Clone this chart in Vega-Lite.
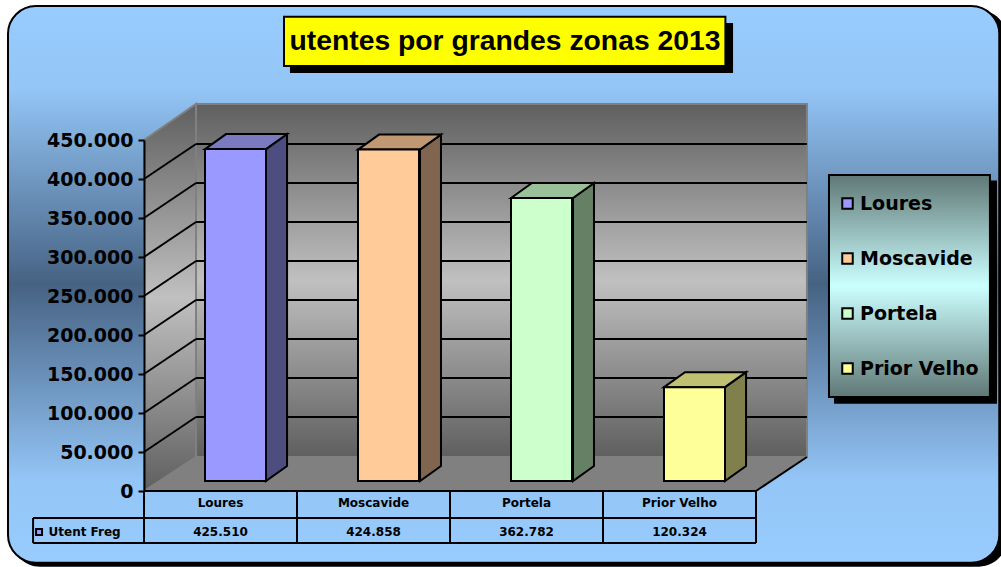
{"$schema":"https://vega.github.io/schema/vega-lite/v6.json","width":612,"height":351,"autosize":"none","padding":{"left":144,"top":140,"right":245,"bottom":76},"background":"#ffffff","config":{"view":{"stroke":null},"locale":{"number":{"decimal":",","thousands":".","grouping":[3],"currency":["","€"]}}},"title":{"text":"utentes por grandes zonas 2013","font":"Liberation Sans","fontSize":28.3,"fontWeight":"bold","color":"#000000","anchor":"middle","dx":55,"offset":-79,"baseline":"bottom"},"datasets":{"zones":[{"zone":"Loures","slot":0.5,"utentes":425510},{"zone":"Moscavide","slot":1.5,"utentes":424858},{"zone":"Portela","slot":2.5,"utentes":362782},{"zone":"Prior Velho","slot":3.5,"utentes":120324}],"ticks":[{"tick":50000,"back":94900},{"tick":100000,"back":144900},{"tick":150000,"back":194900},{"tick":200000,"back":244900},{"tick":250000,"back":294900},{"tick":300000,"back":344900},{"tick":350000,"back":394900},{"tick":400000,"back":444900}],"sidewall":[{"u":0,"hi":450000,"lo":0},{"u":0.34,"hi":496150,"lo":43590}],"floor":[{"u":0,"hi":0,"lo":0},{"u":0.34,"hi":43590,"lo":0},{"u":4,"hi":43590,"lo":0},{"u":4.333,"hi":43590,"lo":43590}],"lines":[{"u0":0,"u1":4,"v0":0,"v1":0},{"u0":-0.725,"u1":4,"v0":-34615,"v1":-34615},{"u0":-0.725,"u1":4,"v0":-66667,"v1":-66667},{"u0":-0.725,"u1":-0.725,"v0":-34615,"v1":-66667},{"u0":0,"u1":0,"v0":0,"v1":-66667},{"u0":1,"u1":1,"v0":0,"v1":-66667},{"u0":2,"u1":2,"v0":0,"v1":-66667},{"u0":3,"u1":3,"v0":0,"v1":-66667},{"u0":4,"u1":4,"v0":0,"v1":-66667},{"u0":4,"u1":4.333,"v0":0,"v1":43590}],"faces":[{"face":"Loures side","u":0.797,"hi":438330,"lo":12820},{"face":"Loures side","u":0.935,"hi":457560,"lo":32050},{"face":"Moscavide side","u":1.804,"hi":437678,"lo":12820},{"face":"Moscavide side","u":1.941,"hi":456908,"lo":32050},{"face":"Portela side","u":2.804,"hi":375602,"lo":12820},{"face":"Portela side","u":2.941,"hi":394832,"lo":32050},{"face":"Prior Velho side","u":3.797,"hi":133144,"lo":12820},{"face":"Prior Velho side","u":3.935,"hi":152374,"lo":32050},{"face":"Loures top","u":0.399,"hi":438330,"lo":438330},{"face":"Loures top","u":0.536,"hi":457560,"lo":438330},{"face":"Loures top","u":0.797,"hi":457560,"lo":438330},{"face":"Loures top","u":0.935,"hi":457560,"lo":457560},{"face":"Moscavide top","u":1.399,"hi":437678,"lo":437678},{"face":"Moscavide top","u":1.536,"hi":456908,"lo":437678},{"face":"Moscavide top","u":1.804,"hi":456908,"lo":437678},{"face":"Moscavide top","u":1.941,"hi":456908,"lo":456908},{"face":"Portela top","u":2.399,"hi":375602,"lo":375602},{"face":"Portela top","u":2.536,"hi":394832,"lo":375602},{"face":"Portela top","u":2.804,"hi":394832,"lo":375602},{"face":"Portela top","u":2.941,"hi":394832,"lo":394832},{"face":"Prior Velho top","u":3.399,"hi":133144,"lo":133144},{"face":"Prior Velho top","u":3.536,"hi":152374,"lo":133144},{"face":"Prior Velho top","u":3.797,"hi":152374,"lo":133144},{"face":"Prior Velho top","u":3.935,"hi":152374,"lo":152374}],"one":[{"part":"box"}]},"layer":[
{"data":{"name":"one"},"mark":{"type":"rect","fill":"#000000","cornerRadius":28},"encoding":{"x":{"datum":-0.863,"type":"quantitative","scale":{"domain":[0,4],"nice":false,"zero":false,"padding":0},"axis":null},"x2":{"datum":5.64},"y":{"datum":616666,"type":"quantitative","scale":{"domain":[0,450000],"nice":false,"zero":false},"axis":{"title":null,"values":[0,50000,100000,150000,200000,250000,300000,350000,400000,450000],"tickCount":10,"format":",.0f","grid":false,"zindex":1,"domainColor":"#000000","domainWidth":2,"tickColor":"#000000","tickWidth":2,"tickSize":6,"labelPadding":5,"labelFont":"DejaVu Sans","labelFontWeight":"bold","labelFontSize":19,"labelColor":"#000000","labelOverlap":false,"labelSeparation":0,"labelBound":false,"labelFlush":false}},"y2":{"datum":-97000}}},
{"data":{"name":"one"},"mark":{"type":"rect","cornerRadius":28,"stroke":"#000000","strokeWidth":2,"fill":{"gradient":"linear","x1":0,"y1":0,"x2":0,"y2":1,"stops":[{"offset":0,"color":"#99ccff"},{"offset":0.15,"color":"#93c5f6"},{"offset":0.5,"color":"#466283"},{"offset":0.85,"color":"#93c5f6"},{"offset":1,"color":"#99ccff"}]}},"encoding":{"x":{"datum":-0.889,"type":"quantitative","scale":{"domain":[0,4],"nice":false,"zero":false,"padding":0},"axis":null},"x2":{"datum":5.59},"y":{"datum":621795,"type":"quantitative","scale":{"domain":[0,450000],"nice":false,"zero":false}},"y2":{"datum":-92000}}},
{"data":{"name":"one"},"mark":{"type":"rect","fill":"#000000"},"encoding":{"x":{"datum":0.954,"type":"quantitative","scale":{"domain":[0,4],"nice":false,"zero":false,"padding":0},"axis":null},"x2":{"datum":3.85},"y":{"datum":600000,"type":"quantitative","scale":{"domain":[0,450000],"nice":false,"zero":false}},"y2":{"datum":536000}}},
{"data":{"name":"one"},"mark":{"type":"rect","fill":"#ffff00","stroke":"#000000","strokeWidth":2},"encoding":{"x":{"datum":0.915,"type":"quantitative","scale":{"domain":[0,4],"nice":false,"zero":false,"padding":0},"axis":null},"x2":{"datum":3.8},"y":{"datum":608000,"type":"quantitative","scale":{"domain":[0,450000],"nice":false,"zero":false}},"y2":{"datum":545000}}},
{"data":{"name":"one"},"mark":{"type":"rect","fill":"#000000"},"encoding":{"x":{"datum":4.51,"type":"quantitative","scale":{"domain":[0,4],"nice":false,"zero":false,"padding":0},"axis":null},"x2":{"datum":5.575},"y":{"datum":398000,"type":"quantitative","scale":{"domain":[0,450000],"nice":false,"zero":false}},"y2":{"datum":112000}}},
{"data":{"name":"one"},"mark":{"type":"rect","stroke":"#000000","strokeWidth":2,"fill":{"gradient":"linear","x1":0,"y1":0,"x2":0,"y2":1,"stops":[{"offset":0,"color":"#5f7876"},{"offset":0.5,"color":"#ccffff"},{"offset":1,"color":"#5f7876"}]}},"encoding":{"x":{"datum":4.477,"type":"quantitative","scale":{"domain":[0,4],"nice":false,"zero":false,"padding":0},"axis":null},"x2":{"datum":5.529},"y":{"datum":405000,"type":"quantitative","scale":{"domain":[0,450000],"nice":false,"zero":false}},"y2":{"datum":120500}}},
{"data":{"name":"sidewall"},"mark":{"type":"area","orient":"vertical","stroke":"#808080","strokeWidth":2,"fill":{"gradient":"linear","x1":0,"y1":0,"x2":0,"y2":1,"stops":[{"offset":0,"color":"#5f5f5f"},{"offset":0.5,"color":"#c0c0c0"},{"offset":1,"color":"#5f5f5f"}]}},"encoding":{"x":{"field":"u","type":"quantitative","scale":{"domain":[0,4],"nice":false,"zero":false,"padding":0},"axis":null},"y":{"field":"hi","type":"quantitative","stack":null,"scale":{"domain":[0,450000],"nice":false,"zero":false}},"y2":{"field":"lo"}}},
{"data":{"name":"one"},"mark":{"type":"rect","stroke":"#808080","strokeWidth":2,"fill":{"gradient":"linear","x1":0,"y1":0,"x2":0,"y2":1,"stops":[{"offset":0,"color":"#5f5f5f"},{"offset":0.5,"color":"#c0c0c0"},{"offset":1,"color":"#5f5f5f"}]}},"encoding":{"x":{"datum":0.34,"type":"quantitative","scale":{"domain":[0,4],"nice":false,"zero":false,"padding":0},"axis":null},"x2":{"datum":4.333},"y":{"datum":496150,"type":"quantitative","scale":{"domain":[0,450000],"nice":false,"zero":false}},"y2":{"datum":43590}}},
{"data":{"name":"floor"},"mark":{"type":"area","orient":"vertical","fill":"#808080"},"encoding":{"x":{"field":"u","type":"quantitative","scale":{"domain":[0,4],"nice":false,"zero":false,"padding":0},"axis":null},"y":{"field":"hi","type":"quantitative","stack":null,"scale":{"domain":[0,450000],"nice":false,"zero":false}},"y2":{"field":"lo"}}},
{"data":{"name":"ticks"},"mark":{"type":"rule","color":"#000000","strokeWidth":2},"encoding":{"x":{"datum":0.34,"type":"quantitative","scale":{"domain":[0,4],"nice":false,"zero":false,"padding":0},"axis":null},"x2":{"datum":4.333},"y":{"field":"back","type":"quantitative","scale":{"domain":[0,450000],"nice":false,"zero":false}}}},
{"data":{"name":"ticks"},"mark":{"type":"rule","color":"#000000","strokeWidth":2},"encoding":{"x":{"datum":0,"type":"quantitative","scale":{"domain":[0,4],"nice":false,"zero":false,"padding":0},"axis":null},"x2":{"datum":0.34},"y":{"field":"tick","type":"quantitative","scale":{"domain":[0,450000],"nice":false,"zero":false}},"y2":{"field":"back"}}},
{"data":{"name":"lines"},"mark":{"type":"rule","color":"#000000","strokeWidth":2},"encoding":{"x":{"field":"u0","type":"quantitative","scale":{"domain":[0,4],"nice":false,"zero":false,"padding":0},"axis":null},"x2":{"field":"u1"},"y":{"field":"v0","type":"quantitative","scale":{"domain":[0,450000],"nice":false,"zero":false}},"y2":{"field":"v1"}}},
{"data":{"name":"faces"},"mark":{"type":"area","orient":"vertical","stroke":"#000000","strokeWidth":2,"strokeJoin":"miter"},"encoding":{"x":{"field":"u","type":"quantitative","scale":{"domain":[0,4],"nice":false,"zero":false,"padding":0},"axis":null},"y":{"field":"hi","type":"quantitative","stack":null,"scale":{"domain":[0,450000],"nice":false,"zero":false}},"y2":{"field":"lo"},"fill":{"field":"face","type":"nominal","legend":null,"scale":{"domain":["Loures side","Moscavide side","Portela side","Prior Velho side","Loures top","Moscavide top","Portela top","Prior Velho top"],"range":["#4d4d80","#806650","#668066","#80804d","#7a7ac0","#c09973","#99c099","#c0c073"]}}}},
{"data":{"name":"zones"},"mark":{"type":"bar","width":61,"xOffset":15,"yOffset":-10,"y2Offset":-10,"stroke":"#000000","strokeWidth":2,"opacity":1},"encoding":{"x":{"field":"slot","type":"quantitative","scale":{"domain":[0,4],"nice":false,"zero":false,"padding":0},"axis":null},"y":{"field":"utentes","type":"quantitative","stack":null,"scale":{"domain":[0,450000],"nice":false,"zero":false}},"y2":{"datum":0},"color":{"field":"zone","type":"nominal","sort":null,"scale":{"domain":["Loures","Moscavide","Portela","Prior Velho"],"range":["#9999ff","#ffcc99","#ccffcc","#ffff99"]},"legend":{"title":null,"orient":"none","legendX":694,"legendY":54,"symbolType":"square","symbolSize":110,"symbolStrokeColor":"#000000","symbolStrokeWidth":2,"symbolOpacity":1,"labelFont":"DejaVu Sans","labelFontWeight":"bold","labelFontSize":19,"labelColor":"#000000","labelOffset":3,"labelLimit":200,"rowPadding":35,"padding":0,"direction":"vertical"}}}},
{"data":{"name":"zones"},"mark":{"type":"text","font":"DejaVu Sans","fontWeight":"bold","fontSize":12,"color":"#000000"},"encoding":{"x":{"field":"slot","type":"quantitative","scale":{"domain":[0,4],"nice":false,"zero":false,"padding":0},"axis":null},"y":{"datum":-15400,"type":"quantitative","scale":{"domain":[0,450000],"nice":false,"zero":false}},"text":{"field":"zone","type":"nominal"}}},
{"data":{"name":"zones"},"mark":{"type":"text","font":"DejaVu Sans","fontWeight":"bold","fontSize":12,"color":"#000000"},"encoding":{"x":{"field":"slot","type":"quantitative","scale":{"domain":[0,4],"nice":false,"zero":false,"padding":0},"axis":null},"y":{"datum":-52600,"type":"quantitative","scale":{"domain":[0,450000],"nice":false,"zero":false}},"text":{"field":"utentes","type":"quantitative","format":","}}},
{"data":{"values":[{"series":"Utent Freg"}]},"mark":{"type":"text","font":"DejaVu Sans","fontWeight":"bold","fontSize":12,"color":"#000000","align":"left"},"encoding":{"x":{"datum":-0.624,"type":"quantitative","scale":{"domain":[0,4],"nice":false,"zero":false,"padding":0},"axis":null},"y":{"datum":-52600,"type":"quantitative","scale":{"domain":[0,450000],"nice":false,"zero":false}},"text":{"field":"series","type":"nominal"}}},
{"data":{"values":[{"series":"Utent Freg"}]},"mark":{"type":"point","shape":"square","filled":true,"size":36,"fill":"#9999ff","stroke":"#000000","strokeWidth":2,"opacity":1},"encoding":{"x":{"datum":-0.686,"type":"quantitative","scale":{"domain":[0,4],"nice":false,"zero":false,"padding":0},"axis":null},"y":{"datum":-52600,"type":"quantitative","scale":{"domain":[0,450000],"nice":false,"zero":false}}}}
]}
